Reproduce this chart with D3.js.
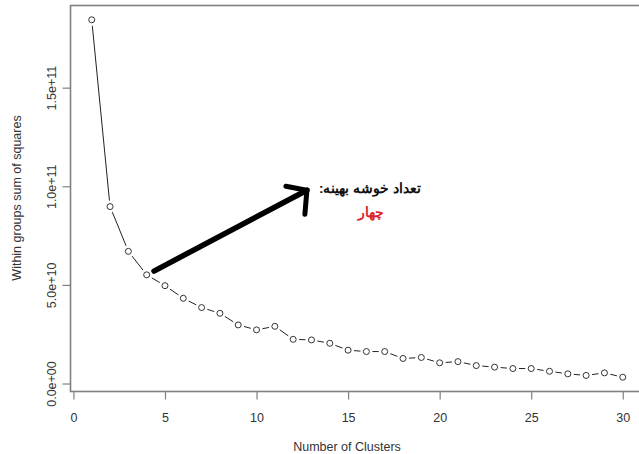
<!DOCTYPE html>
<html>
<head>
<meta charset="utf-8">
<script src="https://cdn.jsdelivr.net/npm/d3@7"></script>
<style>
  body { margin: 0; background: #fff; }
  text { font-family: "Liberation Sans", Arial, sans-serif; }
</style>
</head>
<body>
<div id="chart"></div>
<script>
// number of clusters k and within groups SS
var clusters = d3.range(1, 31);
var wss = [1.844e11, 8.97e10, 6.70e10, 5.51e10, 4.96e10, 4.32e10, 3.85e10, 3.56e10, 2.97e10, 2.72e10,
           2.90e10, 2.24e10, 2.21e10, 2.04e10, 1.69e10, 1.62e10, 1.62e10, 1.27e10, 1.32e10, 1.05e10,
           1.11e10, 9.1e9, 8.3e9, 7.6e9, 7.6e9, 6.2e9, 4.9e9, 4.1e9, 5.4e9, 3.2e9];
var xTicks = [0, 5, 10, 15, 20, 25, 30];
var yTicks = [0, 5e10, 1e11, 1.5e11];
var yTickLabels = ["0.0e+00", "5.0e+10", "1.0e+11", "1.5e+11"];
// annotation (data units): arrow from / to, and text
var arrowFrom = [4.4, 5.7e10];
var arrowTo = [12.75, 9.8e10];
var noteTitle = "تعداد خوشه بهینه:";
var noteValue = "چهار";

var width = 639, height = 454;
var svg = d3.select("#chart").append("svg")
    .attr("width", width).attr("height", height);

// R style 4% padding of the data range
function pad(ext) {
    var d = (ext[1] - ext[0]) * 0.04;
    return [ext[0] - d, ext[1] + d];
}
var x = d3.scaleLinear().domain(pad(d3.extent(clusters))).range([70.5, 644]);
var y = d3.scaleLinear().domain(pad(d3.extent(wss))).range([391.5, 5.5]);

var axisCol = "#808080";

// box
svg.append("rect")
    .attr("x", x.range()[0]).attr("y", y.range()[1])
    .attr("width", x.range()[1] - x.range()[0])
    .attr("height", y.range()[0] - y.range()[1])
    .attr("fill", "none").attr("stroke", axisCol).attr("stroke-width", 1.6);

// x axis
var xAxis = d3.axisBottom(x).tickValues(xTicks).tickSize(8).tickPadding(14);
var gx = svg.append("g").attr("transform", "translate(0," + y.range()[0] + ")").call(xAxis);
gx.select(".domain").remove();
gx.selectAll("line").attr("stroke", axisCol).attr("stroke-width", 1.2);
gx.selectAll("text").attr("font-size", 12.5).attr("fill", "#333")
    .attr("font-family", "Liberation Sans, Arial, sans-serif");

// y axis
var yAxis = d3.axisLeft(y).tickValues(yTicks).tickSize(8).tickPadding(8)
    .tickFormat(function (d, i) { return yTickLabels[i]; });
var gy = svg.append("g").attr("transform", "translate(" + x.range()[0] + ",0)").call(yAxis);
gy.select(".domain").remove();
gy.selectAll("line").attr("stroke", axisCol).attr("stroke-width", 1.2);
gy.selectAll("text")
    .attr("font-size", 12.5).attr("fill", "#333")
    .attr("font-family", "Liberation Sans, Arial, sans-serif")
    .attr("text-anchor", "middle").attr("dy", null).attr("x", null)
    .attr("transform", function () { return "translate(-15,0) rotate(-90)"; });

// axis titles
svg.append("text").attr("x", 347).attr("y", 451)
    .attr("text-anchor", "middle").attr("font-size", 12.5).attr("fill", "#333")
    .text("Number of Clusters");
svg.append("text")
    .attr("transform", "translate(21," + 198 + ") rotate(-90)")
    .attr("text-anchor", "middle").attr("font-size", 12.5).attr("fill", "#333")
    .text("Within groups sum of squares");

// type="b": segments with gaps around the points
var pts = clusters.map(function (k, i) { return [x(k), y(wss[i])]; });
var gap = 6;
var segs = [];
for (var i = 0; i < pts.length - 1; i++) {
    var a = pts[i], b = pts[i + 1];
    var dx = b[0] - a[0], dy = b[1] - a[1];
    var len = Math.sqrt(dx * dx + dy * dy);
    if (len > 2 * gap) {
        var ux = dx / len, uy = dy / len;
        segs.push([a[0] + ux * gap, a[1] + uy * gap, b[0] - ux * gap, b[1] - uy * gap]);
    }
}
svg.append("g").selectAll("line").data(segs).enter().append("line")
    .attr("x1", function (d) { return d[0]; }).attr("y1", function (d) { return d[1]; })
    .attr("x2", function (d) { return d[2]; }).attr("y2", function (d) { return d[3]; })
    .attr("stroke", "#222").attr("stroke-width", 1);

svg.append("g").selectAll("circle").data(pts).enter().append("circle")
    .attr("cx", function (d) { return d[0]; }).attr("cy", function (d) { return d[1]; })
    .attr("r", 3).attr("fill", "none").attr("stroke", "#333").attr("stroke-width", 1);

// arrow
var ax0 = x(arrowFrom[0]), ay0 = y(arrowFrom[1]);
var ax1 = x(arrowTo[0]), ay1 = y(arrowTo[1]);
svg.append("line")
    .attr("x1", ax0).attr("y1", ay0).attr("x2", ax1).attr("y2", ay1)
    .attr("stroke", "#000").attr("stroke-width", 5.5).attr("stroke-linecap", "round");
svg.append("path")
    .attr("d", "M" + (ax1 - 21) + "," + (ay1 - 4) + "L" + ax1 + "," + ay1 + "L" + (ax1 - 2) + "," + (ay1 + 24))
    .attr("fill", "none").attr("stroke", "#000").attr("stroke-width", 5)
    .attr("stroke-linecap", "round").attr("stroke-linejoin", "miter");

// note text
svg.append("text")
    .attr("x", 421).attr("y", 193)
    .attr("direction", "rtl").attr("text-anchor", "start")
    .attr("font-family", "DejaVu Sans, sans-serif").attr("font-weight", "bold")
    .attr("font-size", 13.5).attr("fill", "#111")
    .text(noteTitle);
svg.append("text")
    .attr("x", 371).attr("y", 217)
    .attr("text-anchor", "middle")
    .attr("font-family", "DejaVu Sans, sans-serif").attr("font-weight", "bold")
    .attr("font-size", 13.5).attr("fill", "#d9262f")
    .text(noteValue);
</script>
</body>
</html>
